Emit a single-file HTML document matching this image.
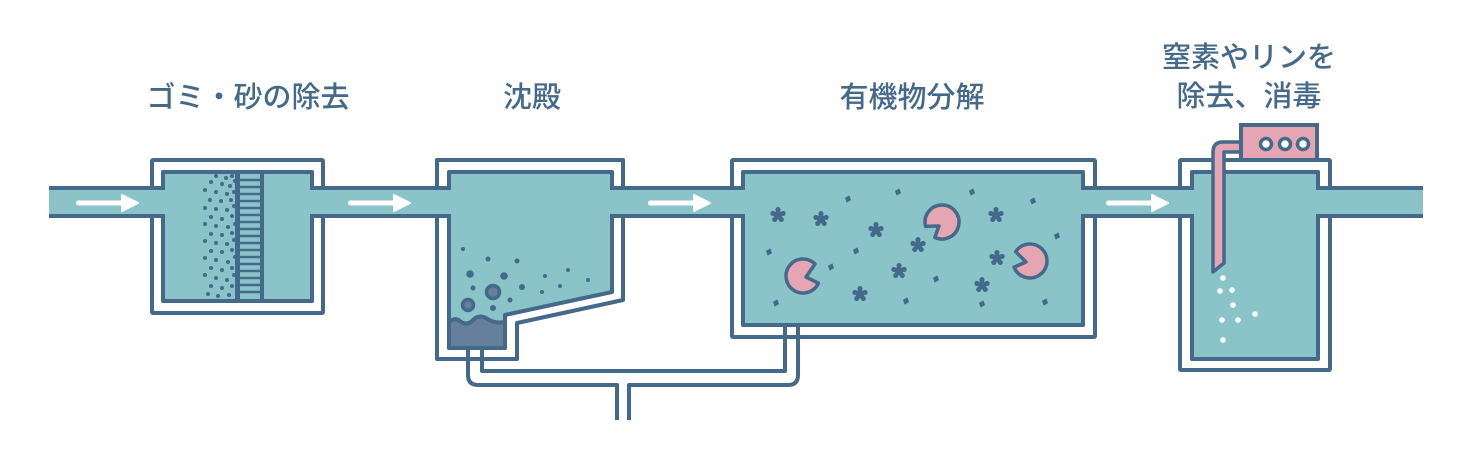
<!DOCTYPE html>
<html><head><meta charset="utf-8"><style>
html,body{margin:0;padding:0;background:#fff;}
svg{display:block}
text{font-family:"Noto Sans CJK JP","Liberation Sans",sans-serif;fill:#44698a;font-size:29px;font-weight:500;text-anchor:middle}
</style></head><body>
<svg width="1477" height="451" viewBox="0 0 1477 451" xmlns="http://www.w3.org/2000/svg">
<defs>
<g id="st" transform="scale(1.35)"><circle r="3.2" fill="#44698a"/><g fill="#44698a"><circle cx="0" cy="-4" r="1.9"/><circle cx="3.8" cy="-1.2" r="1.9"/><circle cx="2.4" cy="3.3" r="1.9"/><circle cx="-2.4" cy="3.3" r="1.9"/><circle cx="-3.8" cy="-1.2" r="1.9"/></g></g>
<path id="dm" d="M0 -3 L2.5 0 L0 3 L-2.5 0Z" fill="#44698a" transform="rotate(20) scale(1.3)"/>
</defs>
<text x="248" y="107">ゴミ・砂の除去</text>
<text x="532" y="107">沈殿</text>
<text x="912" y="107">有機物分解</text>
<text x="1249" y="67">窒素やリンを</text>
<text x="1249" y="106">除去、消毒</text>

<g stroke="#44698a" stroke-width="4" fill="#fff" stroke-linejoin="round">
<rect x="152" y="160" width="171" height="153" rx="1"/>
<path d="M437 160 H623 V300 L517 323 V359 H437 Z"/>
<rect x="732" y="160" width="363" height="177" rx="1"/>
<rect x="1180" y="160" width="150" height="210" rx="1"/>
</g>
<rect x="49" y="188" width="1374" height="28" fill="#8ac4c9"/>
<g stroke="#44698a" stroke-width="4">
<line x1="49" y1="188" x2="1423" y2="188"/>
<line x1="49" y1="216" x2="1423" y2="216"/>
</g>
<g stroke="#44698a" stroke-width="4" fill="#8ac4c9" stroke-linejoin="round">
<rect x="163" y="172" width="149" height="129"/>
<path d="M449 172 H612 V292 L505 315 V348 H449 Z"/>
<rect x="743" y="172" width="340" height="153"/>
<rect x="1192" y="172" width="126" height="187"/>
</g>
<g fill="#8ac4c9">
<rect x="158" y="190" width="10" height="24"/><rect x="307" y="190" width="10" height="24"/>
<rect x="444" y="190" width="10" height="24"/><rect x="607" y="190" width="10" height="24"/>
<rect x="738" y="190" width="10" height="24"/><rect x="1078" y="190" width="10" height="24"/>
<rect x="1187" y="190" width="10" height="24"/><rect x="1313" y="190" width="10" height="24"/>
</g>
<g fill="#fff">
<rect x="76" y="200.5" width="50" height="5" rx="2.5"/><path d="M122 195 L138 203 L122 211 Z" stroke="#fff" stroke-width="2" stroke-linejoin="round"/>
<rect x="348" y="200.5" width="50" height="5" rx="2.5"/><path d="M394 195 L410 203 L394 211 Z" stroke="#fff" stroke-width="2" stroke-linejoin="round"/>
<rect x="648" y="200.5" width="50" height="5" rx="2.5"/><path d="M694 195 L710 203 L694 211 Z" stroke="#fff" stroke-width="2" stroke-linejoin="round"/>
<rect x="1106" y="200.5" width="50" height="5" rx="2.5"/><path d="M1152 195 L1168 203 L1152 211 Z" stroke="#fff" stroke-width="2" stroke-linejoin="round"/>
</g>

<g stroke="#44698a">
<line x1="237.5" y1="174" x2="237.5" y2="299" stroke-width="5"/>
<line x1="262" y1="174" x2="262" y2="299" stroke-width="4"/>
<g stroke-width="2.5">
<line x1="238" y1="180" x2="262" y2="180"/><line x1="238" y1="187" x2="262" y2="187"/><line x1="238" y1="194" x2="262" y2="194"/><line x1="238" y1="201" x2="262" y2="201"/><line x1="238" y1="208" x2="262" y2="208"/><line x1="238" y1="215" x2="262" y2="215"/><line x1="238" y1="222" x2="262" y2="222"/><line x1="238" y1="229" x2="262" y2="229"/><line x1="238" y1="236" x2="262" y2="236"/><line x1="238" y1="243" x2="262" y2="243"/><line x1="238" y1="250" x2="262" y2="250"/><line x1="238" y1="257" x2="262" y2="257"/><line x1="238" y1="264" x2="262" y2="264"/><line x1="238" y1="271" x2="262" y2="271"/><line x1="238" y1="278" x2="262" y2="278"/><line x1="238" y1="285" x2="262" y2="285"/><line x1="238" y1="292" x2="262" y2="292"/>
</g></g>
<g fill="#44698a">
<circle cx="216" cy="176" r="2"/><circle cx="226" cy="178" r="2"/><circle cx="232" cy="176" r="2"/><circle cx="211" cy="182" r="2"/><circle cx="222" cy="184" r="2"/><circle cx="230" cy="186" r="2"/><circle cx="235" cy="181" r="2"/><circle cx="205" cy="190" r="2"/><circle cx="216" cy="192" r="2"/><circle cx="227" cy="194" r="2"/><circle cx="234" cy="192" r="2"/><circle cx="210" cy="200" r="2"/><circle cx="221" cy="201" r="2"/><circle cx="231" cy="200" r="2"/><circle cx="205" cy="208" r="2"/><circle cx="216" cy="209" r="2"/><circle cx="227" cy="210" r="2"/><circle cx="234" cy="206" r="2"/><circle cx="211" cy="217" r="2"/><circle cx="222" cy="219" r="2"/><circle cx="232" cy="216" r="2"/><circle cx="205" cy="224" r="2"/><circle cx="216" cy="226" r="2"/><circle cx="228" cy="227" r="2"/><circle cx="235" cy="224" r="2"/><circle cx="211" cy="234" r="2"/><circle cx="222" cy="235" r="2"/><circle cx="232" cy="233" r="2"/><circle cx="205" cy="241" r="2"/><circle cx="216" cy="243" r="2"/><circle cx="227" cy="244" r="2"/><circle cx="234" cy="240" r="2"/><circle cx="211" cy="251" r="2"/><circle cx="222" cy="252" r="2"/><circle cx="232" cy="250" r="2"/><circle cx="205" cy="258" r="2"/><circle cx="216" cy="260" r="2"/><circle cx="228" cy="262" r="2"/><circle cx="235" cy="257" r="2"/><circle cx="211" cy="268" r="2"/><circle cx="222" cy="270" r="2"/><circle cx="232" cy="268" r="2"/><circle cx="205" cy="275" r="2"/><circle cx="216" cy="278" r="2"/><circle cx="227" cy="280" r="2"/><circle cx="234" cy="275" r="2"/><circle cx="211" cy="286" r="2"/><circle cx="222" cy="288" r="2"/><circle cx="232" cy="286" r="2"/><circle cx="208" cy="294" r="2"/><circle cx="218" cy="296" r="2"/><circle cx="229" cy="295" r="2"/>
</g>

<g fill="#44698a">
<circle cx="463" cy="249" r="2"/><circle cx="488" cy="259" r="2.5"/><circle cx="517" cy="261" r="2.5"/><circle cx="470" cy="274" r="3.8"/><circle cx="504" cy="276" r="3.8"/><circle cx="473" cy="288" r="2.5"/><circle cx="522" cy="287" r="3"/><circle cx="545" cy="276" r="2"/><circle cx="568" cy="270" r="2"/><circle cx="588" cy="280" r="2"/><circle cx="560" cy="286" r="2"/><circle cx="542" cy="292" r="2"/><circle cx="510" cy="300" r="2.5"/><circle cx="493" cy="308" r="3"/>
</g>
<g fill="#667f9b" stroke="#44698a" stroke-width="3.5">
<circle cx="493" cy="292" r="6.5"/><circle cx="468" cy="305" r="5.5"/>
</g>
<path d="M449 322 Q455 317 460 321 Q466 326 472 321 Q478 314 486 318 Q494 324 505 322 V348 H449 Z" fill="#667f9b" stroke="#44698a" stroke-width="4" stroke-linejoin="round"/>

<g fill="none" stroke="#44698a" stroke-width="4" stroke-linejoin="round">
<path d="M468 349 V375 Q468 385 478 385 H617 V420"/>
<path d="M629 420 V385 H788 Q798 385 798 375 V326"/>
<path d="M482 349 V371 H785 V326"/>
</g>

<g>
<use href="#st" x="778" y="215"/><use href="#st" x="821" y="219"/><use href="#st" x="876" y="230"/><use href="#st" x="918" y="245"/><use href="#st" x="899" y="271"/><use href="#st" x="860" y="294"/><use href="#st" x="996" y="215"/><use href="#st" x="997" y="258"/><use href="#st" x="982" y="285"/>
<use href="#dm" x="848" y="199"/><use href="#dm" x="898" y="192"/><use href="#dm" x="972" y="192"/><use href="#dm" x="1033" y="201"/><use href="#dm" x="769" y="252"/><use href="#dm" x="856" y="251"/><use href="#dm" x="831" y="267"/><use href="#dm" x="936" y="279"/><use href="#dm" x="1057" y="236"/><use href="#dm" x="776" y="303"/><use href="#dm" x="906" y="301"/><use href="#dm" x="982" y="304"/><use href="#dm" x="1045" y="302"/>
</g>
<g fill="#e5a5b2" stroke="#44698a" stroke-width="3.5" stroke-linejoin="round">
<path d="M806 277 L818.4 283.2 A17 17 0 1 1 815 264 Z"/>
<path d="M939 226 L925.6 226.4 A17 17 0 1 1 934.8 237.4 Z"/>
<path d="M1026 262 L1015.7 251.7 A17 17 0 1 1 1014.1 267.1 Z"/>
</g>

<path d="M1213 272 V152 Q1213 142 1223 142 H1242 V152 H1224 V263 Z" fill="#e5a5b2" stroke="#44698a" stroke-width="3.5" stroke-linejoin="round"/>
<rect x="1241" y="125" width="76" height="35" fill="#e5a5b2" stroke="#44698a" stroke-width="4"/>
<g fill="#fff" stroke="#44698a" stroke-width="3.5">
<circle cx="1266" cy="144" r="5.5"/><circle cx="1285" cy="144" r="5.5"/><circle cx="1303" cy="144" r="5.5"/>
</g>
<g fill="#fff">
<circle cx="1223" cy="278" r="2.8"/><circle cx="1220" cy="291" r="2.8"/><circle cx="1232" cy="290" r="2.8"/><circle cx="1233" cy="305" r="2.8"/><circle cx="1222" cy="320" r="2.8"/><circle cx="1238" cy="320" r="2.8"/><circle cx="1255" cy="314" r="2.8"/><circle cx="1223" cy="340" r="2.8"/>
</g>
</svg>
</body></html>
